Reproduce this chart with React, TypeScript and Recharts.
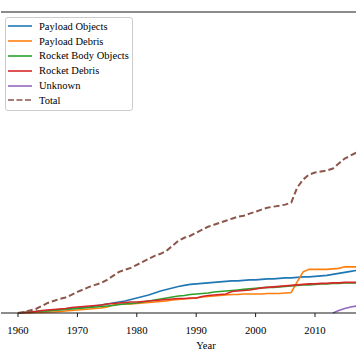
import React from 'react';
import { LineChart, Line, XAxis, YAxis, ReferenceLine, Legend } from 'recharts';

const years = [
    1960, 1961, 1962, 1963, 1964, 1965, 1966, 1967, 1968, 1969,
    1970, 1971, 1972, 1973, 1974, 1975, 1976, 1977, 1978, 1979,
    1980, 1981, 1982, 1983, 1984, 1985, 1986, 1987, 1988, 1989,
    1990, 1991, 1992, 1993, 1994, 1995, 1996, 1997, 1998, 1999,
    2000, 2001, 2002, 2003, 2004, 2005, 2006, 2007, 2008, 2009,
    2010, 2011, 2012, 2013, 2014, 2015, 2016, 2017,
];

const payloadObjects = [
    0, 50, 100, 150, 200, 250, 300, 350, 400, 450,
    500, 550, 600, 700, 800, 900, 1000, 1100, 1200, 1350,
    1500, 1650, 1800, 2000, 2200, 2350, 2500, 2650, 2750, 2850,
    2900, 2950, 3000, 3050, 3100, 3150, 3200, 3200, 3250, 3300,
    3300, 3350, 3400, 3400, 3450, 3500, 3500, 3550, 3600, 3600,
    3650, 3700, 3750, 3850, 3950, 4050, 4150, 4250,
];

const payloadDebris = [
    0, 0, 0, 50, 50, 100, 100, 150, 200, 250,
    300, 350, 400, 450, 500, 600, 800, 850, 900, 900,
    950, 1000, 1050, 1100, 1150, 1200, 1300, 1350, 1400, 1450,
    1500, 1600, 1650, 1700, 1750, 1800, 1850, 1850, 1900, 1900,
    1900, 1900, 1950, 1950, 1950, 2000, 2050, 3100, 4100, 4350,
    4350, 4350, 4350, 4400, 4450, 4600, 4600, 4600,
];

const rocketBodyObjects = [
    0, 50, 100, 150, 200, 200, 250, 300, 350, 400,
    450, 500, 550, 600, 650, 700, 750, 850, 900, 950,
    1000, 1100, 1200, 1300, 1400, 1500, 1600, 1700, 1750, 1850,
    1900, 1950, 2000, 2100, 2150, 2200, 2250, 2300, 2350, 2400,
    2450, 2500, 2550, 2550, 2600, 2650, 2700, 2750, 2800, 2800,
    2850, 2900, 2900, 2950, 2950, 3000, 3000, 3000,
];

const rocketDebris = [
    0, 50, 100, 150, 250, 300, 350, 400, 450, 550,
    600, 650, 700, 750, 800, 900, 950, 1000, 1050, 1100,
    1100, 1150, 1200, 1250, 1300, 1350, 1400, 1450, 1450, 1500,
    1500, 1650, 1750, 1800, 1850, 1900, 2150, 2200, 2250, 2300,
    2400, 2500, 2550, 2600, 2650, 2700, 2750, 2800, 2850, 2900,
    2900, 2950, 2950, 3000, 3000, 3050, 3050, 3050,
];

const unknown = [
    null, null, null, null, null, null, null, null, null, null,
    null, null, null, null, null, null, null, null, null, null,
    null, null, null, null, null, null, null, null, null, null,
    null, null, null, null, null, null, null, null, null, null,
    null, null, null, null, null, null, null, null, null, null,
    null, null, null, 0, 250, 450, 600, 700,
];

const total = [
    0, 100, 250, 400, 700, 1000, 1200, 1400, 1550, 1800,
    2100, 2350, 2600, 2800, 3000, 3300, 3700, 4100, 4300, 4500,
    4800, 5100, 5400, 5700, 5900, 6200, 6700, 7200, 7500, 7700,
    8000, 8300, 8600, 8800, 9000, 9200, 9400, 9600, 9700, 9900,
    10100, 10300, 10500, 10600, 10700, 10800, 11000, 12500, 13300, 13800,
    14000, 14100, 14200, 14400, 14900, 15400, 15700, 16000,
];

// 2020 falls past the cropped right edge, so it is left out
const xTicks = [1960, 1970, 1980, 1990, 2000, 2010];

const series = [
    { key: 'payloadObjects', name: 'Payload Objects', color: '#1f77b4', dashed: false },
    { key: 'payloadDebris', name: 'Payload Debris', color: '#ff7f0e', dashed: false },
    { key: 'rocketBodyObjects', name: 'Rocket Body Objects', color: '#2ca02c', dashed: false },
    { key: 'rocketDebris', name: 'Rocket Debris', color: '#d62728', dashed: false },
    { key: 'unknown', name: 'Unknown', color: '#9467bd', dashed: false },
    { key: 'total', name: 'Total', color: '#8c564b', dashed: true },
];

const data = years.map((year, i) => ({
    year,
    payloadObjects: payloadObjects[i],
    payloadDebris: payloadDebris[i],
    rocketBodyObjects: rocketBodyObjects[i],
    rocketDebris: rocketDebris[i],
    unknown: unknown[i],
    total: total[i],
}));

const FONT = '"Liberation Serif", "DejaVu Serif", serif';

function LegendBox() {
    return (
        <div
            style={{
                width: 126,
                border: '1px solid #cccccc',
                borderRadius: 3,
                background: 'rgba(255,255,255,0.8)',
                padding: '1px 0 2px 0',
                fontFamily: FONT,
                fontSize: 10.5,
                color: '#000',
            }}
        >
            {series.map((s) => (
                <div key={s.key} style={{ display: 'flex', alignItems: 'center', height: 14.8 }}>
                    <svg width={24} height={4} style={{ marginLeft: 2, marginRight: 7 }}>
                        <line
                            x1={0}
                            y1={2}
                            x2={24}
                            y2={2}
                            stroke={s.color}
                            strokeWidth={1.6}
                            strokeDasharray={s.dashed ? '6 2.5' : undefined}
                        />
                    </svg>
                    <span style={{ whiteSpace: 'nowrap' }}>{s.name}</span>
                </div>
            ))}
        </div>
    );
}

export default function App() {
    return (
        <div style={{ position: 'absolute', left: 0, top: 0, width: 356, height: 364, overflow: 'hidden', background: '#fff' }}>
            <LineChart width={420} height={364} data={data} margin={{ top: 12, right: 9, left: 1, bottom: 11 }}>
                <XAxis
                    dataKey="year"
                    type="number"
                    domain={[1957.14, 2026.16]}
                    ticks={xTicks}
                    allowDataOverflow
                    height={40}
                    stroke="#000"
                    axisLine={{ stroke: '#1a1a1a', strokeWidth: 1.2 }}
                    tickLine={{ stroke: '#1a1a1a', strokeWidth: 1 }}
                    tickSize={4}
                    tickMargin={9}
                    tick={{ fontSize: 10.7, fontFamily: FONT, fill: '#000' }}
                    label={{ value: 'Year', position: 'insideBottom', offset: 4, fontSize: 10.5, fontFamily: FONT, fill: '#000' }}
                />
                <YAxis
                    type="number"
                    domain={[0, 30000]}
                    width={0}
                    tick={false}
                    tickLine={false}
                    axisLine={{ stroke: '#1a1a1a', strokeWidth: 1.2 }}
                />
                <ReferenceLine y={30000} stroke="#1a1a1a" strokeWidth={1.2} />
                {series.map((s) => (
                    <Line
                        key={s.key}
                        type="linear"
                        dataKey={s.key}
                        name={s.name}
                        stroke={s.color}
                        strokeWidth={s.dashed ? 2 : 1.6}
                        strokeDasharray={s.dashed ? '6 3' : undefined}
                        dot={false}
                        activeDot={false}
                        isAnimationActive={false}
                    />
                ))}
                <Legend
                    layout="vertical"
                    align="center"
                    verticalAlign="middle"
                    wrapperStyle={{ left: 5, top: 17, width: 'auto' }}
                    content={() => <LegendBox />}
                />
            </LineChart>
        </div>
    );
}
